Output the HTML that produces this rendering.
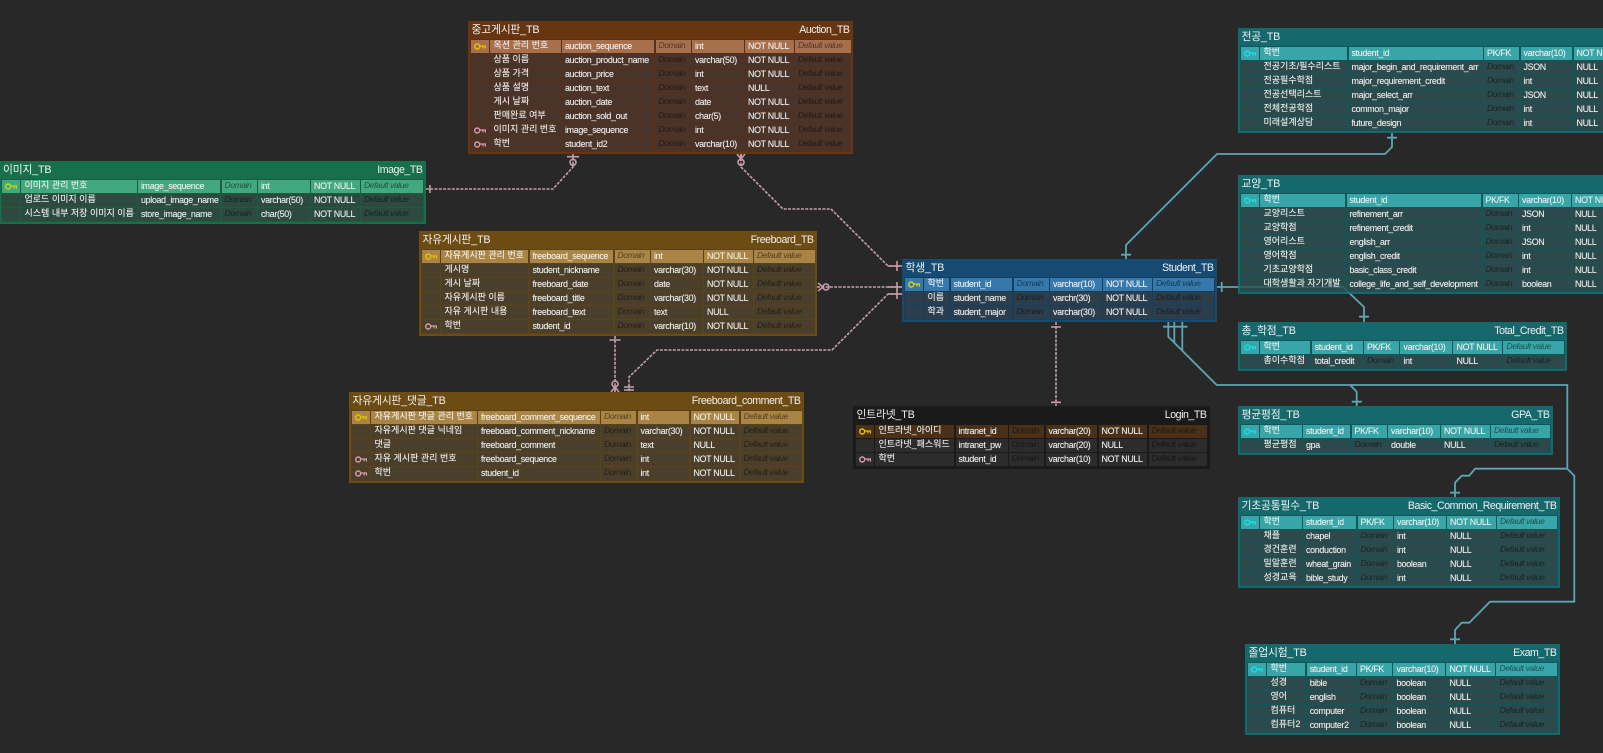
<!DOCTYPE html>
<html lang="ko"><head><meta charset="utf-8"><title>ERD</title>
<style>
html,body{margin:0;padding:0;width:1603px;height:753px;overflow:hidden;background:#282828}
#w{position:relative;width:1603px;height:753px;overflow:hidden;font-family:"Liberation Sans","Noto Sans CJK KR",sans-serif;filter:blur(.35px)}
svg.c{position:absolute;left:0;top:0}
.t{position:absolute;box-sizing:border-box;background:var(--f);color:#eee}
.h{position:absolute;left:3.5px;right:3.5px;top:1px;height:17px;line-height:17px;font-size:10.6px;letter-spacing:-.45px;display:flex;justify-content:space-between;white-space:nowrap;color:#f0f0f0}
.h span:first-child{font-size:10.8px;letter-spacing:-.2px}
.b{position:absolute;left:2px;top:18px;bottom:2px;right:2px;padding:1px 0 0 1px;background:var(--d);overflow:hidden}
.r{display:grid;height:13px;margin:0 0 1px;grid-template-columns:var(--c)}
.r span{display:block;margin-right:1.4px;background:var(--n);height:13px;line-height:13px;padding-left:3px;font-size:8.9px;letter-spacing:-.32px;white-space:nowrap;overflow:hidden;color:#eee;box-sizing:border-box;text-shadow:0 0 .5px rgba(255,255,255,.55)}
.r span:nth-child(1){padding:0}
.r span:nth-child(2){padding-left:3.5px;font-size:9px;letter-spacing:0;line-height:11px}
.r span:nth-child(4),.r span:nth-child(7){font-style:italic;font-size:8.5px;letter-spacing:-.4px;line-height:11px;color:rgba(0,0,0,.5);text-shadow:none}
.r span.w{font-style:normal;font-size:8.9px;letter-spacing:-.32px;line-height:13px;color:#eee;text-shadow:0 0 .5px rgba(255,255,255,.55)}
.r.p span{background:var(--k)}
.r svg{display:block;margin:3px 0 0 3px}
.g{--f:#17704a;--d:#1c5c41;--n:#2c4a3f;--k:#41a97d;--y:#cdd21e}
.a{--f:#673611;--d:#55301a;--n:#4a3328;--k:#a86f4c;--y:#e8c000}
.o{--f:#6d4c14;--d:#5a421a;--n:#4a3f2a;--k:#a98444;--y:#e8c000}
.s{--f:#154a73;--d:#143f5e;--n:#2c3e4c;--k:#3578ac;--y:#e0d010}
.l{--f:#1a1a1a;--d:#1a1a1a;--n:#2c2c2c;--k:#4a3018;--y:#e8c000}
.e{--f:#15696c;--d:#135659;--n:#2c4a4b;--k:#38a5a8;--y:#18e0e8}
.ky{color:var(--y)}.kf{color:#d99aa8}
</style></head><body><div id="w">
<svg width="0" height="0" style="position:absolute"><symbol id="k" viewBox="0 0 12 7"><circle cx="3.2" cy="3.5" r="2.5" fill="none" stroke="currentColor" stroke-width="1.4"/><path d="M5.700 3h5.800v2.600M9 3v2.400" fill="none" stroke="currentColor" stroke-width="1.300"/></symbol></svg>

<svg class="c" width="1603" height="753" fill="none">
<g stroke="#c89dab" stroke-width="1.6">
<path stroke-dasharray="3 1.3" d="M426 189H553L573 167V154M741 154V167L783 209H831L888 266H902M817 287H902M902 294H888L832 350H657L629 377V392M615 336V392M1056 322V406"/>
<path d="M430 185v8M567 156.700h12M897 261v10M897 282v10M897 289v10M609.500 340h11M624 387h10M624 390h10M1051 327h10M1051 402.300h10M888 266h14M888 287h14M888 294h14"/>
<circle cx="573" cy="162.300" r="3"/><circle cx="741" cy="162.300" r="3"/><circle cx="826" cy="287" r="3"/><circle cx="615" cy="384" r="3"/>
<path d="M741 159L737 154M741 159L745 154M741 159V154M823 287L818 283M823 287L818 291M615 387L611 392M615 387L619 392M615 387V392"/>
</g>
<g stroke="#5aa7b4" stroke-width="1.8">
<path d="M1126 259V245L1217 154H1385L1392 147V133M1217 287H1343L1364 307V322M1168.300 322V336.700L1216.700 385H1567.300V468.700H1475L1469.300 475.700H1461.700L1455 482.700V497M1174.300 322V342.700M1182.300 322V350.700M1350 385L1356.700 391.700V406M1567.300 468.700L1574.300 475.700V601.700H1490L1469.300 622.700H1461.700L1455 630V644"/>
<path d="M1121 254.700h10M1387 137.700h10M1221.700 282v10M1359 316.700h10M1163 326.700h10M1169.500 326.700h10M1177.500 326.700h10M1351.700 401.700h10M1450 492.700h10M1450 639.300h10"/>
</g>
</svg>

<div class="t g" style="left:-1px;top:161px;width:427px;height:63px;--c:19px 117px 83.500px 36.500px 53px 50px 63.800px">
<div class="h" style="left:4px"><span>이미지_TB</span><span>Image_TB</span></div>
<div class="b">
<div class="r p"><span><svg class="ky" width="12" height="7"><use href="#k"/></svg></span><span>이미지 관리 번호</span><span>image_sequence</span><span>Domain</span><span>int</span><span>NOT NULL</span><span>Default value</span></div>
<div class="r"><span></span><span>업로드 이미지 이름</span><span>upload_image_name</span><span>Domain</span><span>varchar(50)</span><span>NOT NULL</span><span>Default value</span></div>
<div class="r"><span></span><span>시스템 내부 저장 이미지 이름</span><span>store_image_name</span><span>Domain</span><span>char(50)</span><span>NOT NULL</span><span>Default value</span></div>
</div></div>

<div class="t a" style="left:468px;top:21px;width:385px;height:133px;--c:19px 72px 93.500px 36.500px 53px 50px 57px">
<div class="h"><span>중고게시판_TB</span><span>Auction_TB</span></div>
<div class="b">
<div class="r p"><span><svg class="ky" width="12" height="7"><use href="#k"/></svg></span><span>옥션 관리 번호</span><span>auction_sequence</span><span>Domain</span><span>int</span><span>NOT NULL</span><span>Default value</span></div>
<div class="r"><span></span><span>상품 이름</span><span>auction_product_name</span><span>Domain</span><span>varchar(50)</span><span>NOT NULL</span><span>Default value</span></div>
<div class="r"><span></span><span>상품 가격</span><span>auction_price</span><span>Domain</span><span>int</span><span>NOT NULL</span><span>Default value</span></div>
<div class="r"><span></span><span>상품 설명</span><span>auction_text</span><span>Domain</span><span>text</span><span>NULL</span><span>Default value</span></div>
<div class="r"><span></span><span>게시 날짜</span><span>auction_date</span><span>Domain</span><span>date</span><span>NOT NULL</span><span>Default value</span></div>
<div class="r"><span></span><span>판매완료 여부</span><span>auction_sold_out</span><span>Domain</span><span>char(5)</span><span>NOT NULL</span><span>Default value</span></div>
<div class="r"><span><svg class="kf" width="12" height="7"><use href="#k"/></svg></span><span>이미지 관리 번호</span><span>image_sequence</span><span>Domain</span><span>int</span><span>NOT NULL</span><span>Default value</span></div>
<div class="r"><span><svg class="kf" width="12" height="7"><use href="#k"/></svg></span><span>학번</span><span>student_id2</span><span>Domain</span><span>varchar(10)</span><span>NOT NULL</span><span>Default value</span></div>
</div></div>

<div class="t o" style="left:419px;top:231px;width:398px;height:105px;--c:19px 88.500px 85px 36.500px 53px 50px 62.800px">
<div class="h"><span>자유게시판_TB</span><span>Freeboard_TB</span></div>
<div class="b">
<div class="r p"><span><svg class="ky" width="12" height="7"><use href="#k"/></svg></span><span>자유게시판 관리 번호</span><span>freeboard_sequence</span><span>Domain</span><span>int</span><span>NOT NULL</span><span>Default value</span></div>
<div class="r"><span></span><span>게시명</span><span>student_nickname</span><span>Domain</span><span>varchar(30)</span><span>NOT NULL</span><span>Default value</span></div>
<div class="r"><span></span><span>게시 날짜</span><span>freeboard_date</span><span>Domain</span><span>date</span><span>NOT NULL</span><span>Default value</span></div>
<div class="r"><span></span><span>자유게시판 이름</span><span>freeboard_title</span><span>Domain</span><span>varchar(30)</span><span>NOT NULL</span><span>Default value</span></div>
<div class="r"><span></span><span>자유 게시판 내용</span><span>freeboard_text</span><span>Domain</span><span>text</span><span>NULL</span><span>Default value</span></div>
<div class="r"><span><svg class="kf" width="12" height="7"><use href="#k"/></svg></span><span>학번</span><span>student_id</span><span>Domain</span><span>varchar(10)</span><span>NOT NULL</span><span>Default value</span></div>
</div></div>

<div class="t o" style="left:349px;top:392px;width:455px;height:91px;--c:19px 107px 123px 36.500px 53px 50px 63px">
<div class="h"><span>자유게시판_댓글_TB</span><span>Freeboard_comment_TB</span></div>
<div class="b">
<div class="r p"><span><svg class="ky" width="12" height="7"><use href="#k"/></svg></span><span>자유게시판 댓글 관리 번호</span><span>freeboard_comment_sequence</span><span>Domain</span><span>int</span><span>NOT NULL</span><span>Default value</span></div>
<div class="r"><span></span><span>자유게시판 댓글 닉네임</span><span>freeboard_comment_nickname</span><span>Domain</span><span>varchar(30)</span><span>NOT NULL</span><span>Default value</span></div>
<div class="r"><span></span><span>댓글</span><span>freeboard_comment</span><span>Domain</span><span>text</span><span>NULL</span><span>Default value</span></div>
<div class="r"><span><svg class="kf" width="12" height="7"><use href="#k"/></svg></span><span>자유 게시판 관리 번호</span><span>freeboard_sequence</span><span>Domain</span><span>int</span><span>NOT NULL</span><span>Default value</span></div>
<div class="r"><span><svg class="kf" width="12" height="7"><use href="#k"/></svg></span><span>학번</span><span>student_id</span><span>Domain</span><span>int</span><span>NOT NULL</span><span>Default value</span></div>
</div></div>

<div class="t s" style="left:902px;top:259px;width:315px;height:63px;--c:19px 26.500px 63px 36.500px 53px 50px 62.800px">
<div class="h"><span>학생_TB</span><span>Student_TB</span></div>
<div class="b">
<div class="r p"><span><svg class="ky" width="12" height="7"><use href="#k"/></svg></span><span>학번</span><span>student_id</span><span>Domain</span><span>varchar(10)</span><span>NOT NULL</span><span>Default value</span></div>
<div class="r"><span></span><span>이름</span><span>student_name</span><span>Domain</span><span>varchr(30)</span><span>NOT NULL</span><span>Default value</span></div>
<div class="r"><span></span><span>학과</span><span>student_major</span><span>Domain</span><span>varchar(30)</span><span>NOT NULL</span><span>Default value</span></div>
</div></div>

<div class="t l" style="left:853px;top:406px;width:357px;height:63px;--c:19px 80.500px 53.500px 36.500px 53px 50px 60.300px">
<div class="h"><span>인트라넷_TB</span><span>Login_TB</span></div>
<div class="b">
<div class="r p"><span><svg class="ky" width="12" height="7"><use href="#k"/></svg></span><span>인트라넷_아이디</span><span>intranet_id</span><span>Domain</span><span>varchar(20)</span><span>NOT NULL</span><span>Default value</span></div>
<div class="r"><span></span><span>인트라넷_패스워드</span><span>intranet_pw</span><span>Domain</span><span>varchar(20)</span><span>NULL</span><span>Default value</span></div>
<div class="r"><span><svg class="kf" width="12" height="7"><use href="#k"/></svg></span><span>학번</span><span>student_id</span><span>Domain</span><span>varchar(10)</span><span>NOT NULL</span><span>Default value</span></div>
</div></div>

<div class="t e" style="left:1238px;top:28px;width:448px;height:105px;--c:19px 88.500px 135.500px 36.500px 53px 50px 60px">
<div class="h"><span>전공_TB</span></div>
<div class="b">
<div class="r p"><span><svg class="ky" width="12" height="7"><use href="#k"/></svg></span><span>학번</span><span>student_id</span><span class="w">PK/FK</span><span>varchar(10)</span><span>NOT NULL</span><span>Default value</span></div>
<div class="r"><span></span><span>전공기초/필수리스트</span><span>major_begin_and_requirement_arr</span><span>Domain</span><span>JSON</span><span>NULL</span><span>Default value</span></div>
<div class="r"><span></span><span>전공필수학점</span><span>major_requirement_credit</span><span>Domain</span><span>int</span><span>NULL</span><span>Default value</span></div>
<div class="r"><span></span><span>전공선택리스트</span><span>major_select_arr</span><span>Domain</span><span>JSON</span><span>NULL</span><span>Default value</span></div>
<div class="r"><span></span><span>전체전공학점</span><span>common_major</span><span>Domain</span><span>int</span><span>NULL</span><span>Default value</span></div>
<div class="r"><span></span><span>미래설계상담</span><span>future_design</span><span>Domain</span><span>int</span><span>NULL</span><span>Default value</span></div>
</div></div>

<div class="t e" style="left:1238px;top:175px;width:448px;height:119px;--c:19px 86.500px 136px 36.500px 53px 50px 60px">
<div class="h"><span>교양_TB</span></div>
<div class="b">
<div class="r p"><span><svg class="ky" width="12" height="7"><use href="#k"/></svg></span><span>학번</span><span>student_id</span><span class="w">PK/FK</span><span>varchar(10)</span><span>NOT NULL</span><span>Default value</span></div>
<div class="r"><span></span><span>교양리스트</span><span>refinement_arr</span><span>Domain</span><span>JSON</span><span>NULL</span><span>Default value</span></div>
<div class="r"><span></span><span>교양학점</span><span>refinement_credit</span><span>Domain</span><span>int</span><span>NULL</span><span>Default value</span></div>
<div class="r"><span></span><span>영어리스트</span><span>english_arr</span><span>Domain</span><span>JSON</span><span>NULL</span><span>Default value</span></div>
<div class="r"><span></span><span>영어학점</span><span>english_credit</span><span>Domain</span><span>int</span><span>NULL</span><span>Default value</span></div>
<div class="r"><span></span><span>기초교양학점</span><span>basic_class_credit</span><span>Domain</span><span>int</span><span>NULL</span><span>Default value</span></div>
<div class="r"><span></span><span>대학생활과 자기개발</span><span>college_life_and_self_development</span><span>Domain</span><span>boolean</span><span>NULL</span><span>Default value</span></div>
</div></div>

<div class="t e" style="left:1238px;top:322px;width:329px;height:49px;--c:19px 51.700px 52.300px 36.500px 53px 50px 62.300px">
<div class="h"><span>총_학점_TB</span><span>Total_Credit_TB</span></div>
<div class="b">
<div class="r p"><span><svg class="ky" width="12" height="7"><use href="#k"/></svg></span><span>학번</span><span>student_id</span><span class="w">PK/FK</span><span>varchar(10)</span><span>NOT NULL</span><span>Default value</span></div>
<div class="r"><span></span><span>총이수학점</span><span>total_credit</span><span>Domain</span><span>int</span><span>NULL</span><span>Default value</span></div>
</div></div>

<div class="t e" style="left:1238px;top:406px;width:315px;height:49px;--c:19px 43px 48.500px 36.500px 53px 50px 60.800px">
<div class="h"><span>평균평점_TB</span><span>GPA_TB</span></div>
<div class="b">
<div class="r p"><span><svg class="ky" width="12" height="7"><use href="#k"/></svg></span><span>학번</span><span>student_id</span><span class="w">PK/FK</span><span>varchar(10)</span><span>NOT NULL</span><span>Default value</span></div>
<div class="r"><span></span><span>평균평점</span><span>gpa</span><span>Domain</span><span>double</span><span>NULL</span><span>Default value</span></div>
</div></div>

<div class="t e" style="left:1238px;top:497px;width:322px;height:91px;--c:19px 43px 54.500px 36.500px 53px 50px 61.800px">
<div class="h"><span>기초공통필수_TB</span><span>Basic_Common_Requirement_TB</span></div>
<div class="b">
<div class="r p"><span><svg class="ky" width="12" height="7"><use href="#k"/></svg></span><span>학번</span><span>student_id</span><span class="w">PK/FK</span><span>varchar(10)</span><span>NOT NULL</span><span>Default value</span></div>
<div class="r"><span></span><span>채플</span><span>chapel</span><span>Domain</span><span>int</span><span>NULL</span><span>Default value</span></div>
<div class="r"><span></span><span>경건훈련</span><span>conduction</span><span>Domain</span><span>int</span><span>NULL</span><span>Default value</span></div>
<div class="r"><span></span><span>밀알훈련</span><span>wheat_grain</span><span>Domain</span><span>boolean</span><span>NULL</span><span>Default value</span></div>
<div class="r"><span></span><span>성경교육</span><span>bible_study</span><span>Domain</span><span>int</span><span>NULL</span><span>Default value</span></div>
</div></div>

<div class="t e" style="left:1245px;top:644px;width:315px;height:91px;--c:19px 39.700px 50.300px 36.500px 53px 50px 62.300px">
<div class="h"><span>졸업시험_TB</span><span>Exam_TB</span></div>
<div class="b">
<div class="r p"><span><svg class="ky" width="12" height="7"><use href="#k"/></svg></span><span>학번</span><span>student_id</span><span class="w">PK/FK</span><span>varchar(10)</span><span>NOT NULL</span><span>Default value</span></div>
<div class="r"><span></span><span>성경</span><span>bible</span><span>Domain</span><span>boolean</span><span>NULL</span><span>Default value</span></div>
<div class="r"><span></span><span>영어</span><span>english</span><span>Domain</span><span>boolean</span><span>NULL</span><span>Default value</span></div>
<div class="r"><span></span><span>컴퓨터</span><span>computer</span><span>Domain</span><span>boolean</span><span>NULL</span><span>Default value</span></div>
<div class="r"><span></span><span>컴퓨터2</span><span>computer2</span><span>Domain</span><span>boolean</span><span>NULL</span><span>Default value</span></div>
</div></div>

<svg class="c" width="1603" height="753" fill="none"><path d="M1238 287H1343L1350 294" stroke="#5aa7b4" stroke-width="1.5" opacity=".3"/></svg>
</div></body></html>
